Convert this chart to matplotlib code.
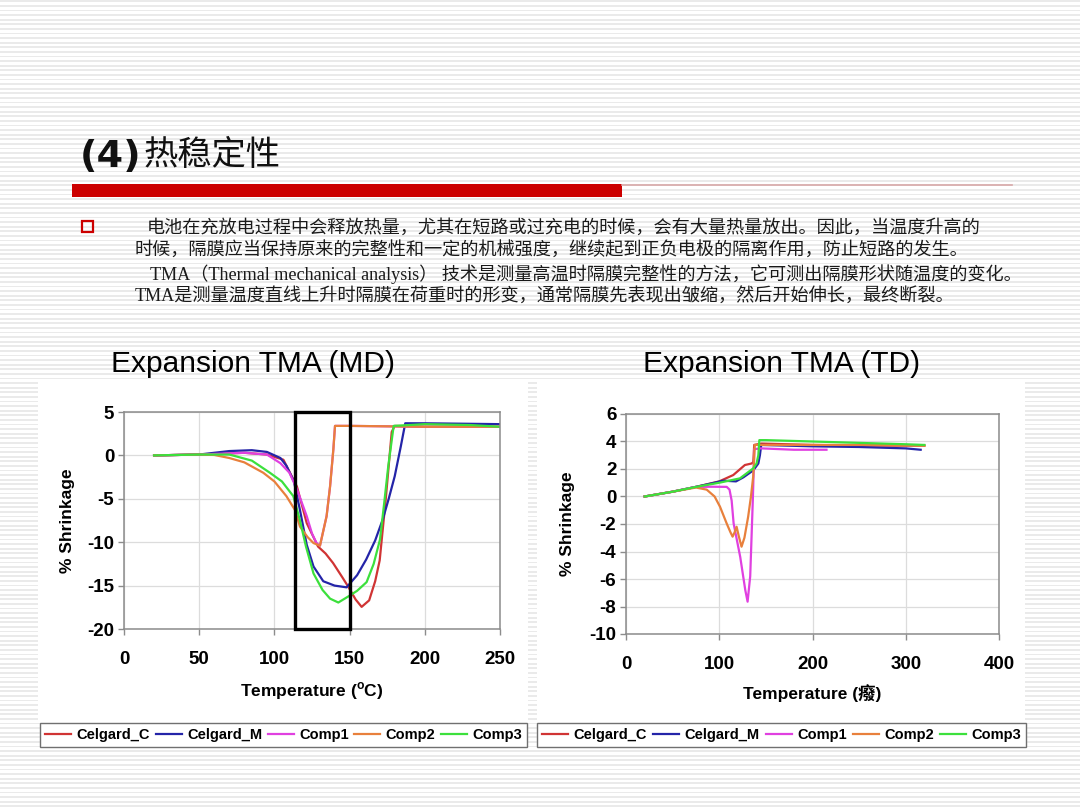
import numpy as np
import matplotlib
matplotlib.use("Agg")
import matplotlib.pyplot as plt
from matplotlib.patches import Rectangle

plt.rcParams['axes.unicode_minus'] = False
plt.rcParams['font.family'] = ['Liberation Sans', 'Noto Sans CJK SC']

W, H = 1080, 810

# ---- data : Expansion TMA (MD) ----
md_c_t = [20, 50, 80, 95, 106, 115, 121.5, 129, 134, 139, 145, 149, 154, 158, 163, 167, 170, 174, 178, 180, 200, 250]
md_c_v = [0, 0.1, 0.3, 0.1, -0.5, -3.6, -7.8, -10.5, -11.3, -12.4, -14.0, -15.1, -16.6, -17.45, -16.7, -14.5, -12.1, -5.1, 2.7, 3.4, 3.3, 3.3]
md_m_t = [20, 50, 70, 85, 95, 104, 108, 113, 117, 121.5, 126, 132.5, 140, 148, 155, 161, 167, 172, 176, 180, 184, 187, 200, 250]
md_m_v = [0, 0.1, 0.5, 0.6, 0.4, -0.3, -1.2, -3.0, -6.3, -10.3, -12.8, -14.5, -15.0, -15.2, -13.8, -12.0, -9.8, -7.4, -5.0, -2.4, 1.0, 3.7, 3.7, 3.6]
md_1_t = [20, 50, 80, 95, 104, 110, 115, 121.5, 125, 128, 130.3, 134.7, 137, 139.2, 140.3, 150, 200, 250]
md_1_v = [0, 0.1, 0.3, 0.1, -0.9, -2.0, -3.9, -7.0, -9.0, -10.1, -10.4, -7.0, -3.6, 0.7, 3.4, 3.4, 3.3, 3.3]
md_2_t = [20, 50, 60, 70, 80, 92.6, 100, 108, 113.7, 117, 122, 126, 130.3, 134.7, 137, 139.2, 140.3, 150, 200, 250]
md_2_v = [0, 0.1, 0.05, -0.3, -0.8, -2.0, -3.0, -4.7, -6.3, -8.2, -9.4, -10.1, -10.4, -7.0, -3.6, 0.7, 3.4, 3.4, 3.3, 3.3]
md_3_t = [20, 50, 70, 85, 97, 105, 112.6, 117, 121, 126, 132, 137, 142.5, 149.6, 155, 161.3, 166, 170.2, 173, 175.7, 179.3, 200, 230, 250]
md_3_v = [0, 0.1, 0.1, -0.6, -2.0, -3.0, -4.7, -7.5, -10.5, -13.6, -15.5, -16.5, -16.95, -16.2, -15.6, -14.6, -12.5, -9.7, -5.5, -1.25, 3.4, 3.6, 3.5, 3.3]

# ---- data : Expansion TMA (TD) ----
td_c_t = [20, 50, 75, 100, 115, 127.5, 134.7, 136.5, 137.5, 145, 200, 250, 320]
td_c_v = [0, 0.35, 0.7, 1.1, 1.56, 2.29, 2.4, 2.5, 3.75, 3.85, 3.75, 3.7, 3.7]
td_m_t = [20, 50, 75, 95, 104, 118, 126, 136.5, 141.9, 143.6, 145, 200, 250, 300, 316]
td_m_v = [0, 0.35, 0.7, 1.0, 1.15, 1.1, 1.4, 1.9, 2.4, 3.0, 3.75, 3.65, 3.6, 3.5, 3.4]
td_1_t = [20, 50, 75, 93, 108, 111, 113.3, 115.4, 122.5, 127.9, 130.4, 133.2, 136, 137.6, 145, 180, 215]
td_1_v = [0, 0.35, 0.7, 0.71, 0.7, 0.5, -0.3, -1.95, -4.4, -6.8, -7.65, -5.8, -0.25, 3.45, 3.5, 3.4, 3.4]
td_2_t = [20, 50, 75, 86.5, 95, 100.8, 107.9, 112, 114.3, 116.5, 118.6, 121, 123.9, 127, 131, 134, 136.4, 138.1, 145, 200, 250, 320]
td_2_v = [0, 0.35, 0.65, 0.5, 0.0, -0.74, -1.95, -2.6, -2.92, -2.6, -2.2, -2.9, -3.65, -3.0, -1.47, 0.0, 1.44, 3.75, 3.75, 3.75, 3.75, 3.7]
td_3_t = [20, 50, 75, 100, 122.2, 136.5, 140, 141.9, 143, 150, 200, 250, 300, 320]
td_3_v = [0, 0.35, 0.7, 1.0, 1.32, 2.05, 2.4, 3.0, 4.1, 4.1, 4.0, 3.9, 3.8, 3.75]

names = ['Celgard_C', 'Celgard_M', 'Comp1', 'Comp2', 'Comp3']
colors = ['#d03434', '#2424a8', '#e040e0', '#e8803c', '#3ce03c']

md_box = (114, 150)   # highlighted range on MD chart

body = [
    "电池在充放电过程中会释放热量，尤其在短路或过充电的时候，会有大量热量放出。因此，当温度升高的",
    "时候，隔膜应当保持原来的完整性和一定的机械强度，继续起到正负电极的隔离作用，防止短路的发生。",
    "TMA（Thermal mechanical analysis） 技术是测量高温时隔膜完整性的方法，它可测出隔膜形状随温度的变化。",
    "TMA是测量温度直线上升时隔膜在荷重时的形变，通常隔膜先表现出皱缩，然后开始伸长，最终断裂。",
]


def fx(x):
    return x / W


def fy(y):
    return 1 - y / H


fig = plt.figure(figsize=(10.8, 8.1), dpi=100)

# striped slide background, drawn in pixel coords
bg = fig.add_axes([0, 0, 1, 1])
rows = np.arange(H)
stripe = np.where((rows % 4.6) < 1.8, 0.915, 1.0)
bg.imshow(np.tile(stripe[:, None], (1, 4)), cmap='gray', vmin=0, vmax=1,
          aspect='auto', extent=[0, W, H, 0], interpolation='nearest')
bg.set_xlim(0, W)
bg.set_ylim(H, 0)
bg.axis('off')

bg.text(80, 157, "(4)", fontsize=27.5, fontweight='bold', va='center', ha='left',
        color='#111111', family=['DejaVu Sans'])
bg.text(144, 156, "热稳定性", fontsize=24.7, va='center', ha='left', color='#111111',
        family=['Noto Sans CJK SC'])
bg.add_patch(Rectangle((72, 184), 550, 13, color='#cc0000', lw=0))
bg.plot([622, 1012], [185, 185], color='#d8a8a8', lw=1.2)
bg.add_patch(Rectangle((82, 221), 11, 11, fill=False, ec='#cc0000', lw=1.6))

body_x = [147, 135, 150, 135]
body_y = [228, 250, 274, 297]
for s, x, y in zip(body, body_x, body_y):
    bg.text(x, y, s, fontsize=13.1, va='center', ha='left', color='#1a1a1a',
            family=['Liberation Serif', 'Noto Sans CJK SC'])

# white chart panels
bg.add_patch(Rectangle((38, 382), 490, 340, color='white', lw=0))
bg.add_patch(Rectangle((537, 382), 488, 340, color='white', lw=0))

bg.text(253, 364, "Expansion TMA (MD)", fontsize=21.5, ha='center', va='center')
bg.text(782, 364, "Expansion TMA (TD)", fontsize=21.5, ha='center', va='center')


def style(ax, xlim, xticks, ylim, yticks):
    ax.set_xlim(*xlim)
    ax.set_ylim(*ylim)
    ax.set_xticks(xticks)
    ax.set_yticks(yticks)
    ax.grid(True, color='#dcdcdc', lw=0.9)
    ax.set_axisbelow(True)
    for sp in ax.spines.values():
        sp.set_color('#8c8c8c')
        sp.set_linewidth(1.1)
    ax.tick_params(direction='out', length=4, width=1, color='#8c8c8c',
                   labelsize=13.5)
    ax.tick_params(axis='x', pad=12)
    ax.tick_params(axis='y', pad=3)
    for lab in ax.get_xticklabels() + ax.get_yticklabels():
        lab.set_fontweight('bold')
    ax.patch.set_alpha(0)


# MD chart
ax1 = fig.add_axes([fx(124), fy(629), fx(500 - 124), (629 - 412) / H])
md = [(md_c_t, md_c_v), (md_m_t, md_m_v), (md_1_t, md_1_v), (md_2_t, md_2_v), (md_3_t, md_3_v)]
for (t, v), n, c in zip(md, names, colors):
    ax1.plot(t, v, color=c, lw=1.6, label=n)
style(ax1, (0, 250), np.arange(0, 251, 50), (-20, 5), np.arange(-20, 6, 5))
ax1.add_patch(Rectangle((md_box[0], -20), md_box[1] - md_box[0], 25, fill=False,
                        ec='black', lw=2.4, clip_on=False, zorder=5))
ax1.set_ylabel("% Shrinkage", fontsize=12.5, fontweight='bold', labelpad=9)
ax1.set_xlabel("Temperature ($^\\mathregular{o}$C)", fontsize=12.5, fontweight='bold', labelpad=9)

# TD chart
ax2 = fig.add_axes([fx(626), fy(634), fx(999 - 626), (634 - 414) / H])
td = [(td_c_t, td_c_v), (td_m_t, td_m_v), (td_1_t, td_1_v), (td_2_t, td_2_v), (td_3_t, td_3_v)]
for (t, v), n, c in zip(td, names, colors):
    ax2.plot(t, v, color=c, lw=1.6, label=n)
style(ax2, (0, 400), np.arange(0, 401, 100), (-10, 6), np.arange(-10, 7, 2))
ax2.set_ylabel("% Shrinkage", fontsize=12.5, fontweight='bold', labelpad=10)
ax2.set_xlabel("Temperature (癈)", fontsize=12.5, fontweight='bold', labelpad=8,
               family=['Liberation Sans', 'Noto Sans CJK SC'])

# legends in boxes under each chart
for ax, x0, x1 in [(ax1, 40, 527), (ax2, 537, 1026)]:
    leg = ax.legend(loc='lower left', bbox_to_anchor=(fx(x0), fy(747), fx(x1 - x0), 25 / H),
                    bbox_transform=fig.transFigure, mode='expand', ncol=5,
                    prop={'weight': 'bold', 'size': 10.5}, handlelength=1.8,
                    handletextpad=0.35, columnspacing=0.6, borderaxespad=0,
                    borderpad=0.35, fancybox=False, framealpha=1)
    leg.get_frame().set_edgecolor('#707070')
    leg.get_frame().set_linewidth(1.0)

fig.savefig("out.png", dpi=100)
